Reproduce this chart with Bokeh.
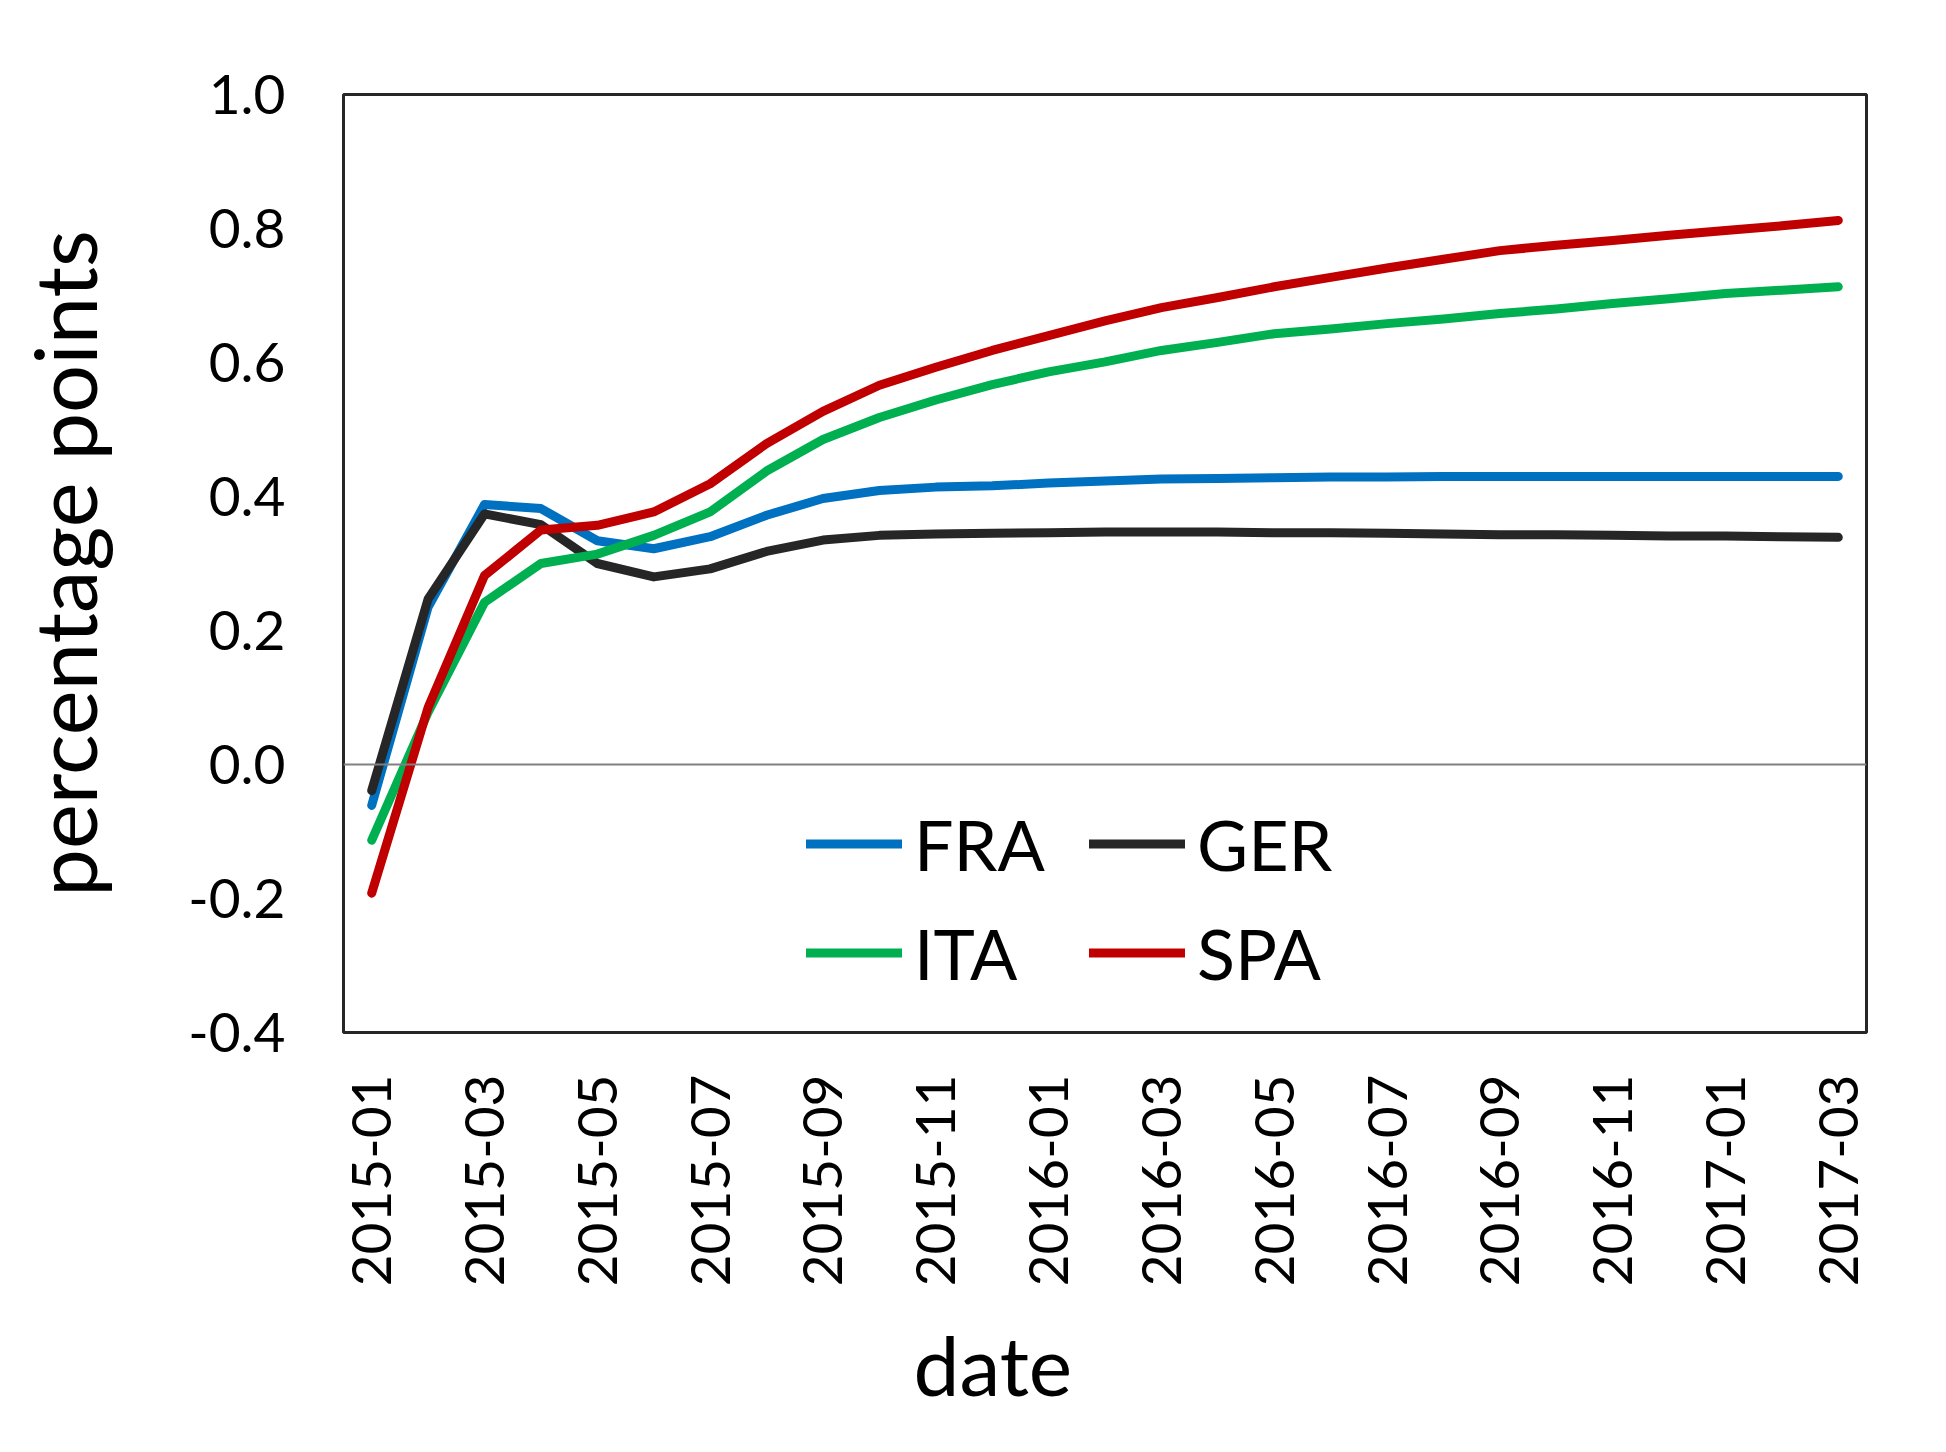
import math
from bokeh.plotting import figure
from bokeh.models import (Range1d, FixedTicker, PrintfTickFormatter, Span,
                          Legend, LegendItem, Title)
from bokeh.embed import file_html
from bokeh.resources import INLINE

months = ["2015-01", "2015-02", "2015-03", "2015-04", "2015-05", "2015-06",
          "2015-07", "2015-08", "2015-09", "2015-10", "2015-11", "2015-12",
          "2016-01", "2016-02", "2016-03", "2016-04", "2016-05", "2016-06",
          "2016-07", "2016-08", "2016-09", "2016-10", "2016-11", "2016-12",
          "2017-01", "2017-02", "2017-03"]

fra = [-0.061, 0.235, 0.388, 0.382, 0.334, 0.322, 0.340, 0.372, 0.397,
       0.409, 0.414, 0.416, 0.420, 0.423, 0.426, 0.427, 0.428, 0.429,
       0.429, 0.430, 0.430, 0.430, 0.430, 0.430, 0.430, 0.430, 0.430]
ger = [-0.039, 0.247, 0.374, 0.358, 0.300, 0.280, 0.292, 0.318, 0.335,
       0.342, 0.344, 0.345, 0.346, 0.347, 0.347, 0.347, 0.346, 0.346,
       0.345, 0.344, 0.343, 0.343, 0.342, 0.341, 0.341, 0.340, 0.339]
ita = [-0.113, 0.078, 0.242, 0.300, 0.314, 0.342, 0.377, 0.438, 0.485,
       0.518, 0.544, 0.567, 0.586, 0.601, 0.618, 0.630, 0.643, 0.650,
       0.658, 0.665, 0.673, 0.680, 0.688, 0.695, 0.703, 0.708, 0.713]
spa = [-0.192, 0.085, 0.282, 0.350, 0.357, 0.377, 0.419, 0.479, 0.527,
       0.566, 0.593, 0.618, 0.640, 0.662, 0.682, 0.697, 0.713, 0.727,
       0.741, 0.754, 0.767, 0.775, 0.782, 0.790, 0.797, 0.804, 0.812]

series_names = ["FRA", "GER", "ITA", "SPA"]
series_values = [fra, ger, ita, spa]
series_colors = ["#0070C0", "#262626", "#00B050", "#C00000"]

y_ticks = [-0.4, -0.2, 0.0, 0.2, 0.4, 0.6, 0.8, 1.0]
x_title = "date"
y_title = "percentage points"

FONT = "Lato"
x = list(range(len(months)))

p = figure(width=1930, height=1436, output_backend="svg", toolbar_location=None,
           x_range=Range1d(-0.5, len(months) - 0.5), y_range=Range1d(-0.4, 1.0),
           min_border_left=343, min_border_right=64, min_border_top=94,
           min_border_bottom=404)

p.background_fill_color = "white"
p.border_fill_color = "white"
p.outline_line_color = "#262626"
p.outline_line_width = 3
p.xgrid.visible = False
p.ygrid.visible = False

p.add_layout(Span(location=0, dimension="width", line_color="#808080", line_width=2))

renderers = []
for name, vals, col in zip(series_names, series_values, series_colors):
    r = p.line(x, vals, line_color=col, line_width=9, line_cap="round", line_join="round")
    renderers.append(r)

# x axis
xa = p.xaxis[0]
xa.ticker = FixedTicker(ticks=x[::2])
xa.major_label_overrides = {i: months[i] for i in x}
xa.major_label_orientation = math.pi / 2
xa.axis_line_color = None
xa.major_tick_line_color = None
xa.minor_tick_line_color = None
xa.major_tick_out = 0
xa.major_label_standoff = 42
xa.major_label_text_font = FONT
xa.major_label_text_font_size = "55px"
xa.major_label_text_color = "black"

# y axis
ya = p.yaxis[0]
ya.ticker = FixedTicker(ticks=y_ticks)
ya.formatter = PrintfTickFormatter(format="%.1f")
ya.axis_line_color = None
ya.major_tick_line_color = None
ya.minor_tick_line_color = None
ya.major_tick_out = 0
ya.major_label_standoff = 58
ya.major_label_text_font = FONT
ya.major_label_text_font_size = "55px"
ya.major_label_text_color = "black"
ya.axis_label = y_title
ya.axis_label_text_font = FONT
ya.axis_label_text_font_size = "85px"
ya.axis_label_text_font_style = "normal"
ya.axis_label_text_color = "black"
ya.axis_label_standoff = 70

# x-axis title below the tick labels (left of centre as in the original)
p.add_layout(Title(text=x_title, align="left", offset=570, text_font=FONT,
                   text_font_size="82px", text_font_style="normal",
                   text_color="black", standoff=46), "below")

legend = Legend(items=[LegendItem(label=n, renderers=[r])
                       for n, r in zip(series_names, renderers)],
                orientation="horizontal", ncols=2, location=(463, 25),
                glyph_width=96, glyph_height=109, label_height=109,
                label_width=175, label_standoff=12, spacing=0,
                padding=0, margin=0, border_line_color=None,
                background_fill_alpha=0, label_text_font=FONT,
                label_text_font_size="70px", label_text_color="black")
p.add_layout(legend)

open("out.html", "w").write(file_html(p, INLINE))
